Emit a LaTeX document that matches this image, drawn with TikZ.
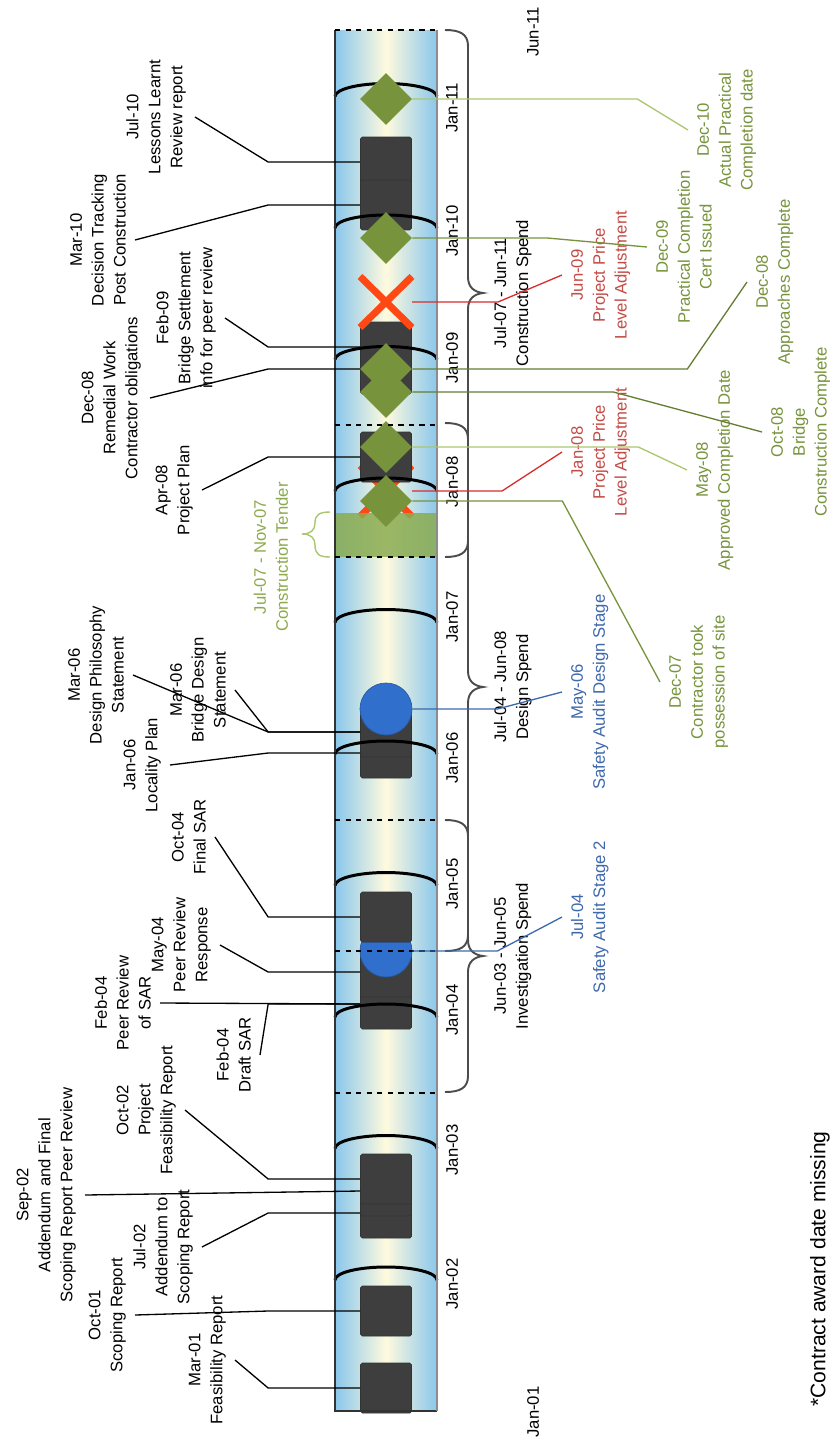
\documentclass[tikz,border=0pt]{standalone}
\usepackage{fontspec}
\setmainfont{Liberation Sans}
\usepackage{tikz}
\usetikzlibrary{shapes.geometric,shapes.misc}

\definecolor{barblue}{RGB}{138,199,236}
\definecolor{barcream}{RGB}{255,250,222}
\definecolor{docgrey}{RGB}{62,62,62}
\definecolor{msgreen}{RGB}{119,147,60}
\definecolor{mslight}{RGB}{170,198,110}
\definecolor{tendertext}{RGB}{140,170,75}
\definecolor{tendergreen}{RGB}{138,172,80}
\definecolor{msred}{RGB}{195,75,70}
\definecolor{linkred}{RGB}{215,45,45}
\definecolor{msblue}{RGB}{62,104,172}
\definecolor{auditblue}{RGB}{48,112,204}
\definecolor{crossred}{RGB}{255,72,20}

% brace beside the bar: #1 top, #2 tip, #3 bottom
\newcommand{\spendbrace}[3]{%
  \draw[spanbrace] (445,#1) .. controls (460,#1) and (468,{#1+4}) .. (468,{#1+16})
    -- (468,{#2-16}) .. controls (468,{#2-5}) and (475,{#2-1}) .. (483,#2)
    .. controls (475,{#2+1}) and (468,{#2+5}) .. (468,{#2+16})
    -- (468,{#3-16}) .. controls (468,{#3-4}) and (460,#3) .. (445,#3);}

\begin{document}
\begin{tikzpicture}[
  x=0.02cm, y=-0.02cm,
  doc/.style={rectangle, draw=black!80, fill=docgrey, rounded corners=1pt, minimum width=1.02cm, minimum height=1cm, inner sep=0pt},
  mile/.style={diamond, fill=msgreen, minimum width=1.04cm, minimum height=1.04cm, inner sep=0pt},
  audit/.style={circle, draw=auditblue!80!black, fill=auditblue, minimum size=1.04cm, inner sep=0pt},
  adjust/.style={cross out, draw=crossred, line width=4pt, minimum width=0.9cm, minimum height=0.88cm, inner sep=0pt},
  lbl/.style={rotate=90, align=center, inner sep=5pt, font=\fontsize{9.5}{12.5}\selectfont},
  lleft/.style={lbl, anchor=south},
  lright/.style={lbl, anchor=north},
  yeararc/.style={line width=1.7pt},
  link/.style={line width=0.75pt},
  spanbrace/.style={black!70, line width=1.1pt},
  cut/.style={dashed, line width=0.8pt}
]
\useasboundingbox (0,0) rectangle (835,1440);

% the bar
\shade[left color=barblue, right color=barblue, middle color=barcream] (335,30) rectangle (437,1411);
\node[adjust] (xjan08) at (386,491) {};

% documents
\foreach \n/\y in {mar01/1388, oct01/1311, jul02/1213, sep02/1191, oct02/1179, feb04/1004, may04/972,
                   jan06/753, mar06/732, apr08/457, dec08/369, feb09/347, jul10/162, mar10/205} {
  \node[doc] (doc\n) at (386,\y) {};
}

% year rings
\foreach \k in {0,...,9} {
  \draw[yeararc] (335,{1280-131.5*\k}) arc[start angle=180, end angle=0, x radius=1.02cm, y radius=0.26cm];
}

% safety audits
\node[audit] (aujul04) at (386,951) {};
\node[audit] (aumay06) at (386,709) {};
\node[doc] (dococt04) at (386,917) {};

% construction tender
\fill[tendergreen, opacity=.85] (335,513) rectangle (437,557);
\draw[mslight, line width=0.8pt] (330,512) .. controls (319,512) and (315,515) .. (315,523)
  .. controls (315,530) and (311,534) .. (302,534) .. controls (311,534) and (315,538) .. (315,545)
  .. controls (315,554) and (319,557) .. (330,557);
\node[lbl, text=tendertext] (tender) at (271,557) {Jul-07 - Nov-07\\Construction Tender};

\node[adjust] (xjun09) at (386,302) {};

% milestones
\foreach \n/\y in {dec07/501, may08/447, oct08/392, dec08/369, dec09/238, dec10/99} {
  \node[mile] (ms\n) at (386,\y) {};
}

% bar outline and cuts
\draw[line width=0.8pt, black!80] (335,30) -- (335,1411) -- (437,1411);
\draw[line width=1pt, black!45] (437,1411) -- (437,30);
\foreach \y in {30, 425, 557, 820, 951, 1093} {
  \draw[cut] (335,\y) -- (437,\y);
}

% time axis
\foreach \yr/\y in {02/1284, 03/1150, 04/1010, 05/884, 06/758, 07/617, 08/482, 09/358, 10/231, 11/108} {
  \node[lbl, inner sep=0pt] (jan\yr) at (452,\y) {Jan-\yr};
}
\node[lbl, inner sep=0pt] (jun11) at (533,32) {Jun-11};
\node[lbl, inner sep=0pt] (jan01) at (533,1412) {Jan-01};

% spend periods
\spendbrace{30}{293}{557}
\spendbrace{423}{687}{951}
\spendbrace{820}{956}{1092}
\node[lright] (conspend) at (485,293) {Jul-07 - Jun-11\\Construction Spend};
\node[lright] (desspend) at (485,687) {Jul-04 - Jun-08\\Design Spend};
\node[lright] (invspend) at (485,956) {Jun-03 - Jun-05\\Investigation Spend};

% document labels
\node[lleft] (feasrep) at (235,1360) {Mar-01\\Feasibility Report};
\node[lleft] (scoprep) at (135,1315) {Oct-01\\Scoping Report};
\node[lleft] (addscop) at (202,1247) {Jul-02\\Addendum to\\Scoping Report};
\node[lleft] (addfinal) at (85,1195) {Sep-02\\Addendum and Final\\Scoping Report Peer Review};
\node[lleft] (projfeas) at (185,1110) {Oct-02\\Project\\Feasibility Report};
\node[lleft] (draftsar) at (260,1055) {Feb-04\\Draft SAR};
\node[lleft] (peersar) at (160,1003) {Feb-04\\Peer Review\\of SAR};
\node[lleft] (peerresp) at (220,945) {May-04\\Peer Review\\Response};
\node[lleft] (finalsar) at (215,837) {Oct-04\\Final SAR};
\node[lleft] (locplan) at (170,765) {Jan-06\\Locality Plan};
\node[lleft] (designphil) at (133,675) {Mar-06\\Design Philosophy\\Statement};
\node[lleft] (bridgedes) at (235,690) {Mar-06\\Bridge Design\\Statement};
\node[lleft] (projplan) at (202,490) {Apr-08\\Project Plan};
\node[lleft] (remedial) at (150,398) {Dec-08\\Remedial Work\\Contractor obligations};
\node[lleft] (settle) at (225,318) {Feb-09\\Bridge Settlement\\info for peer review};
\node[lleft] (decision) at (135,240) {Mar-10\\Decision Tracking\\Post Construction};
\node[lleft] (lessons) at (195,117) {Jul-10\\Lessons Learnt\\Review report};

\foreach \d/\l in {mar01/feasrep, oct01/scoprep, jul02/addscop, oct02/projfeas, feb04/draftsar,
                   may04/peerresp, oct04/finalsar, jan06/locplan, mar06/designphil, mar06/bridgedes,
                   apr08/projplan, dec08/remedial, feb09/settle, mar10/decision, jul10/lessons} {
  \draw[link] (doc\d.west) -- ++(-92,0) -- (\l.south);
}
\draw[link] (docsep02.west) -- (addfinal.south);
\draw[link] (docfeb04.west) -- (peersar.south);

% milestone labels
\node[lright, text=msgreen] (actual) at (688,130) {Dec-10\\Actual Practical\\Completion date};
\node[lright, text=msgreen] (practical) at (647,247) {Dec-09\\Practical Completion\\Cert Issued};
\node[lright, text=msgreen] (approaches) at (747,282) {Dec-08\\Approaches Complete};
\node[lright, text=msgreen] (bridgecomp) at (762,432) {Oct-08\\Bridge\\Construction Complete};
\node[lright, text=msgreen] (approved) at (687,470) {May-08\\Approved Completion Date};
\node[lright, text=msgreen] (possession) at (660,682) {Dec-07\\Contractor took\\possession of site};
\node[lright, text=msred] (pricejun) at (562,275) {Jun-09\\Project Price\\Level Adjustment};
\node[lright, text=msred] (pricejan) at (562,452) {Jan-08\\Project Price\\Level Adjustment};
\node[lright, text=msblue] (auditstage) at (562,917) {Jul-04\\Safety Audit Stage 2};
\node[lright, text=msblue] (auditdesign) at (562,692) {May-06\\Safety Audit Design Stage};

\draw[link, mslight] (msdec10.east) -- ++(225,0) -- (actual.north);
\draw[link, msgreen] (msdec09.east) -- ++(135,0) -- (practical.north);
\draw[link, msgreen!85!black] (msdec08.east) -- ++(275,0) -- (approaches.north);
\draw[link, msgreen!85!black] (msoct08.east) -- ++(201,0) -- (bridgecomp.north);
\draw[link, mslight] (msmay08.east) -- ++(226,0) -- (approved.north);
\draw[link, msgreen] (msdec07.east) -- ++(150,0) -- (possession.north);
\draw[link, linkred] (xjun09.east) -- ++(86,0) -- (pricejun.north);
\draw[link, linkred] (xjan08.east) -- ++(90,0) -- (pricejan.north);
\draw[link, msblue] (aujul04.east) -- ++(85,0) -- (auditstage.north);
\draw[link, msblue] (aumay06.east) -- ++(85,0) -- (auditdesign.north);

\node[lbl, font=\fontsize{12}{14}\selectfont] (note) at (820,1269) {*Contract award date missing};
\end{tikzpicture}
\end{document}
